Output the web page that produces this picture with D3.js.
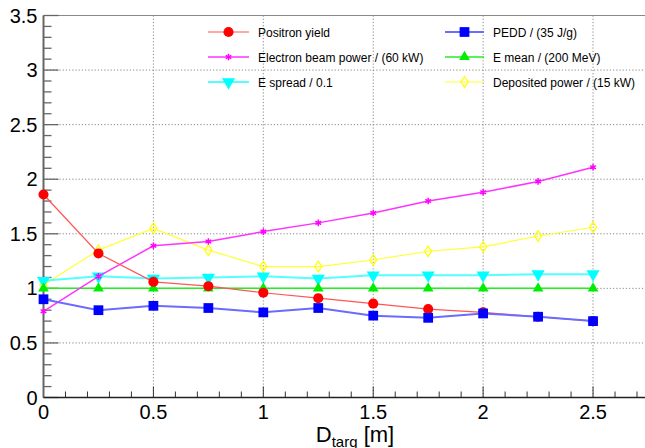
<!DOCTYPE html>
<html lang="en">
<head>
<meta charset="UTF-8">
<script src="https://cdnjs.cloudflare.com/ajax/libs/d3/7.8.5/d3.min.js"></script>
<style>
    body { margin: 0; background: #fff; }
    text { font-family: "Liberation Sans", Arial, sans-serif; fill: #000; }
    .grid line { stroke: #888; stroke-dasharray: 1.2,2; stroke-width: 1; }
    .legend text { font-size: 12px; }
    .ticklab { font-size: 20px; }
</style>
</head>
<body>
<svg width="645" height="448"></svg>
<script>
// distance values (m)
var dist = [0, 0.25, 0.5, 0.75, 1.0, 1.25, 1.5, 1.75, 2.0, 2.25, 2.5];

var positronYield = [1.86, 1.32, 1.06, 1.02, 0.96, 0.91, 0.86, 0.81, 0.78, 0.74, 0.70];
var pedd          = [0.90, 0.80, 0.84, 0.82, 0.78, 0.82, 0.75, 0.73, 0.77, 0.74, 0.70];
var beamPower     = [0.79, 1.11, 1.39, 1.43, 1.52, 1.60, 1.69, 1.80, 1.88, 1.98, 2.11];
var eMean         = [1.0, 1.0, 1.0, 1.0, 1.0, 1.0, 1.0, 1.0, 1.0, 1.0, 1.0];
var eSpread       = [1.07, 1.11, 1.09, 1.10, 1.11, 1.09, 1.12, 1.12, 1.12, 1.13, 1.13];
var depPower      = [1.03, 1.35, 1.55, 1.35, 1.20, 1.20, 1.26, 1.34, 1.38, 1.48, 1.56];

var seriesNames = ["Positron yield", "PEDD / (35 J/g)", "Electron beam power / (60 kW)",
                   "E mean / (200 MeV)", "E spread / 0.1", "Deposited power / (15 kW)"];

var xTicks = [0, 0.5, 1, 1.5, 2, 2.5];
var yTicks = [0, 0.5, 1, 1.5, 2, 2.5, 3, 3.5];

var series = [
    {name: seriesNames[0], vals: positronYield, color: "#ff0000", line: "#ff5555", lw: 1.2, marker: "circle"},
    {name: seriesNames[1], vals: pedd,          color: "#0000ff", line: "#6b6bff", lw: 2,   marker: "square"},
    {name: seriesNames[2], vals: beamPower,     color: "#ff00ff", line: "#ff33ff", lw: 1.5, marker: "star"},
    {name: seriesNames[3], vals: eMean,         color: "#00ee00", line: "#22ee22", lw: 1.5, marker: "triup"},
    {name: seriesNames[4], vals: eSpread,       color: "#00ffff", line: "#55ffff", lw: 2,   marker: "tridown"},
    {name: seriesNames[5], vals: depPower,      color: "#ffff00", line: "#ffff33", lw: 1.2, marker: "diamond"}
];

var svg = d3.select("svg");
var pLeft = 43.5, pRight = 648, pTop = 15.5, pBottom = 397.5;

var x = d3.scaleLinear().domain([0, 2.75]).range([pLeft, pRight]);
var y = d3.scaleLinear().domain([0, 3.5]).range([pBottom, pTop]);

// grid
var grid = svg.append("g").attr("class", "grid");
grid.selectAll(".gx").data(xTicks.filter(function(d){ return d > 0; }))
    .enter().append("line")
    .attr("x1", function(d){ return x(d); }).attr("x2", function(d){ return x(d); })
    .attr("y1", pTop).attr("y2", pBottom);
grid.selectAll(".gy").data(yTicks.filter(function(d){ return d > 0 && d < 3.5; }))
    .enter().append("line")
    .attr("y1", function(d){ return y(d); }).attr("y2", function(d){ return y(d); })
    .attr("x1", pLeft).attr("x2", pRight);

// frame top
svg.append("line").attr("x1", pLeft).attr("x2", pRight).attr("y1", pTop).attr("y2", pTop)
    .attr("stroke", "#888").attr("stroke-width", 1.2);

// minor ticks
var minorX = d3.range(0, 28).map(function(i){ return i / 10; });
var minorY = d3.range(0, 36).map(function(i){ return i / 10; });
function isMajor(d) { return Math.abs(d * 2 - Math.round(d * 2)) < 1e-6; }

svg.append("g").selectAll("line").data(minorX).enter().append("line")
    .attr("x1", function(d){ return x(d); }).attr("x2", function(d){ return x(d); })
    .attr("y1", pBottom).attr("y2", function(d){ return isMajor(d) ? pBottom - 11 : pBottom - 6; })
    .attr("stroke", "#333").attr("stroke-width", 1);
svg.append("g").selectAll("line").data(minorY).enter().append("line")
    .attr("y1", function(d){ return y(d); }).attr("y2", function(d){ return y(d); })
    .attr("x1", pLeft).attr("x2", function(d){ return isMajor(d) ? pLeft + 15 : pLeft + 8; })
    .attr("stroke", "#666").attr("stroke-width", 1.3);

// axes lines
svg.append("line").attr("x1", pLeft).attr("x2", pLeft).attr("y1", pTop).attr("y2", pBottom)
    .attr("stroke", "#666").attr("stroke-width", 2);
svg.append("line").attr("x1", pLeft).attr("x2", pRight).attr("y1", pBottom).attr("y2", pBottom)
    .attr("stroke", "#222").attr("stroke-width", 1.5);

// tick labels
svg.append("g").selectAll("text").data(xTicks).enter().append("text")
    .attr("class", "ticklab")
    .attr("x", function(d){ return x(d); }).attr("y", pBottom + 21)
    .attr("text-anchor", "middle")
    .text(function(d){ return d; });
svg.append("g").selectAll("text").data(yTicks).enter().append("text")
    .attr("class", "ticklab")
    .attr("x", pLeft - 6).attr("y", function(d){ return y(d) + 7; })
    .attr("text-anchor", "end")
    .text(function(d){ return d; });

// axis title
var xt = svg.append("text").attr("x", 355).attr("y", 442).attr("text-anchor", "middle")
    .style("font-size", "22px");
xt.append("tspan").text("D");
xt.append("tspan").attr("dy", 5).style("font-size", "15px").text("targ");
xt.append("tspan").attr("dy", -5).text(" [m]");

// marker drawing
var sym = {
    circle: d3.symbol().type(d3.symbolCircle).size(80),
    square: d3.symbol().type(d3.symbolSquare).size(95),
    star: d3.symbol().type(d3.symbolAsterisk).size(30),
    triup: d3.symbol().type(d3.symbolTriangle).size(50),
    diamond: d3.symbol().type(d3.symbolDiamond2).size(50)
};
function drawMarker(g, s, cx, cy) {
    if (s.marker === "tridown") {
        g.append("path").attr("d", d3.symbol().type(d3.symbolTriangle).size(75)())
            .attr("transform", "translate(" + cx + "," + cy + ") rotate(180)")
            .attr("fill", s.color);
    } else if (s.marker === "diamond") {
        g.append("path").attr("d", sym.diamond())
            .attr("transform", "translate(" + cx + "," + cy + ") scale(0.8,1.2)")
            .attr("fill", "none").attr("stroke", s.color).attr("stroke-width", 1.3);
    } else if (s.marker === "star") {
        g.append("path").attr("d", sym.star())
            .attr("transform", "translate(" + cx + "," + cy + ")")
            .attr("fill", s.color).attr("stroke", s.color).attr("stroke-width", 1.5);
    } else {
        g.append("path").attr("d", sym[s.marker]())
            .attr("transform", "translate(" + cx + "," + cy + ")")
            .attr("fill", s.color);
    }
}

var line = d3.line().x(function(d){ return x(d[0]); }).y(function(d){ return y(d[1]); });

// draw order: deposited, espread, emean, beam, positron, pedd
var order = [5, 4, 3, 2, 0, 1];
order.forEach(function(i) {
    var s = series[i];
    var pts = d3.zip(dist, s.vals);
    var g = svg.append("g");
    g.append("path").datum(pts).attr("d", line)
        .attr("fill", "none").attr("stroke", s.line).attr("stroke-width", s.lw);
    pts.forEach(function(p){ drawMarker(g, s, x(p[0]), y(p[1])); });
});

// legend
var leg = svg.append("g").attr("class", "legend");
var legPos = [[208, 32], [445, 32], [208, 57], [445, 57], [208, 82], [445, 82]];
series.forEach(function(s, i) {
    var px = legPos[i][0], py = legPos[i][1];
    var w = i % 2 === 0 ? 41 : 39;
    var g = leg.append("g");
    g.append("line").attr("x1", px).attr("x2", px + w).attr("y1", py).attr("y2", py)
        .attr("stroke", s.line).attr("stroke-width", s.lw);
    drawMarker(g, s, px + w / 2, py);
    g.append("text").attr("x", px + w + 9).attr("y", py + 4.5).text(s.name);
});
</script>
</body>
</html>
